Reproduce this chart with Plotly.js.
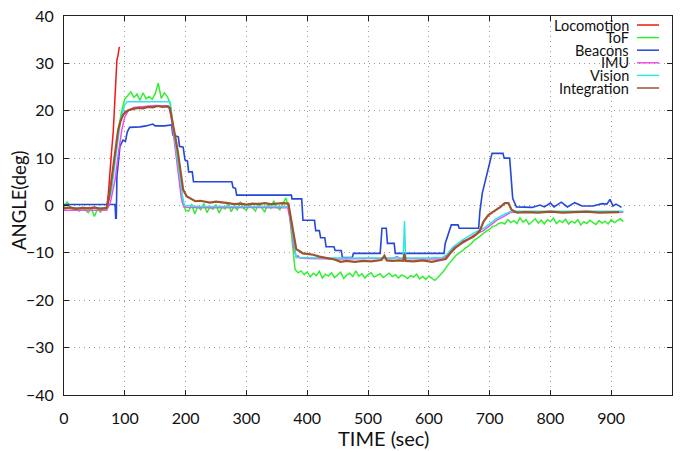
<!DOCTYPE html>
<html>
<head>
<meta charset="utf-8">
<script src="https://cdn.plot.ly/plotly-3.0.1.min.js"></script>
<style>html,body{margin:0;padding:0;background:#fff;}#chart{width:690px;height:451px;}</style>
</head>
<body>
<div id="chart"></div>
<script>
// ---------- DATA ----------
const seriesNames = ["Locomotion", "ToF", "Beacons", "IMU", "Vision", "Integration"];
const xTitle = "TIME (sec)";
const yTitle = "ANGLE(deg)";

const locoT = [0, 20, 40, 60, 70, 73, 76, 78, 81, 84, 85, 87, 89, 91];
const locoY = [-0.6, -0.6, -0.5, -0.6, -0.6, 2.6, 6.8, 11, 15.6, 22.3, 26.5, 30.7, 31.8, 33.5];

// ToF sampled every 5 s starting at t = 0
const tofStart = 0, tofStep = 5;
const tofY = [
  -0.5, 0.8, -0.3, -1.0, -0.6, -1.2, -0.4, -0.9, -1.5, -0.7,
  -2.3, -0.8, -1.4, -0.6, -1.0, 2.5, 6, 11.5, 16.5, 20,
  22.5, 23.2, 24.0, 22.8, 23.5, 22.2, 23.8, 22.5, 23.0, 22.4,
  23.6, 25.8, 22.6, 23.8, 23.0, 21.5, 16, 11, 5.5, 0.5,
  -1.0, -1.2, 0.3, -1.8, -0.2, -0.9, 0.4, -1.5, -0.4, -0.8,
  0.2, -1.6, -0.3, -0.7, 0.5, -1.3, -0.2, -0.9, 0.8, -0.6,
  -1.0, 0.3, -0.5, -1.2, 0.6, -0.4, -1.4, 0.2, -0.6, 1.0,
  -0.3, -0.9, 0.5, 1.6, -0.8, -7, -13.5, -14.2, -13.8, -14.6,
  -14.0, -15.1, -14.3, -14.8, -13.9, -15.3, -14.5, -14.9, -14.2, -15.2,
  -14.6, -14.1, -15.4, -14.7, -14.3, -15.0, -13.8, -14.9, -14.4, -15.3,
  -14.6, -14.2, -15.1, -14.7, -14.4, -15.2, -14.8, -14.3, -15.0, -14.6,
  -15.3, -14.7, -14.9, -15.4, -14.8, -15.1, -14.5, -15.5, -15.0, -15.6,
  -14.9, -15.4, -15.8, -15.2, -14.6, -13.8, -12.8, -12.0, -11.2, -10.5,
  -10.0, -9.6, -9.0, -8.6, -8.0, -7.3, -6.9, -6.3, -5.9, -5.4,
  -5.0, -4.4, -4.3, -3.8, -3.6, -3.9, -3.0, -3.6, -3.2, -3.8,
  -2.6, -3.5, -3.0, -4.0, -3.3, -2.8, -3.7, -3.1, -3.9, -3.0,
  -3.4, -2.7, -3.8, -3.2, -3.6, -2.9, -3.9, -3.3, -3.7, -3.0,
  -4.1, -3.4, -3.8, -3.1, -3.6, -4.0, -3.2, -3.7, -3.3, -3.9,
  -3.0, -3.6, -3.2, -2.8, -3.4
];

const beaconT = [0, 84, 85, 86, 87, 92, 97, 101, 104, 108, 125, 135, 146, 150, 165, 177, 179, 188, 190, 196,
  199, 203, 205, 211, 213, 276, 278, 282, 284, 374, 375, 391, 393, 412, 414, 420, 422, 429, 431, 444,
  446, 456, 458, 474, 476, 520, 523, 530, 532, 543, 545, 625, 627, 637, 648, 650, 682, 684, 688, 692,
  696, 699, 704, 722, 724, 733, 735, 738, 744, 760, 770, 783, 790, 800, 806, 818, 828, 840, 852, 870,
  885, 893, 898, 903, 908, 917];
const beaconY = [0.2, 0.2, -2.7, -2.7, 6.1, 12.5, 13.8, 13.5, 15.5, 16.5, 16.6, 16.8, 17.2, 16.8, 16.8, 17.0, 14.9, 14.5, 12.5, 12.3,
  9.6, 9.4, 7.1, 7.1, 5.0, 5.0, 3.8, 3.6, 2.2, 2.2, 1.4, 1.4, -3.1, -3.1, -5.3, -5.3, -6.8, -6.8, -8.7, -8.7,
  -9.5, -9.5, -11.0, -11.0, -10.1, -10.1, -4.8, -4.8, -8.0, -8.0, -10.1, -10.1, -8.0, -4.1, -4.1, -4.8, -4.8, -1.3, 2.6, 4.7,
  6.9, 8.9, 11.0, 11.0, 10.0, 10.0, 6.9, 1.5, -0.3, -0.3, -0.4, 0.1, -0.3, 0.5, -0.3, 0.7, -0.3, 0.6, -0.1, -0.1,
  0.4, 0.3, 1.3, -0.1, 0.3, -0.4];

const imuT = [0, 70, 76, 84, 90, 95, 100, 106, 115, 130, 150, 172, 176, 182, 188, 193, 197, 205, 240, 300,
  368, 372, 378, 382, 385, 388, 400, 450, 500, 540, 548, 552, 600, 622, 630, 640, 660, 673, 690, 712,
  725, 734, 742, 800, 860, 920];
const imuY = [-1.0, -1.0, 0.5, 5.4, 11.5, 15.9, 18.7, 20.1, 20.7, 20.9, 21.1, 21.0, 19.0, 13.0, 6.5, 1.5, -0.3, -0.4, -0.5, -0.4,
  -0.5, -3, -9, -10.9, -10.6, -11.1, -11.2, -11.3, -11.2, -11.2, -10.8, -11.2, -11.3, -11.3, -10.6, -9.0, -7.6, -6.3, -5.3, -3.1,
  -2.2, -1.5, -1.4, -1.4, -1.3, -1.4];

const visT = [0, 70, 78, 85, 93, 100, 104, 130, 160, 174, 180, 188, 195, 198, 220, 300, 370, 376, 382, 420,
  500, 558, 560, 562, 600, 622, 630, 640, 655, 673, 690, 712, 725, 734, 742, 850, 920];
const visY = [-0.5, -0.5, 3, 10, 18, 21.3, 21.9, 21.9, 22.0, 21.9, 15.9, 8.2, 1.9, 0.0, -0.2, -0.2, -0.2, -6, -11.0, -11.1,
  -11.1, -11.1, -3.3, -11.1, -11.1, -11.0, -10.3, -8.7, -7.3, -5.9, -4.8, -2.7, -1.8, -1.3, -1.2, -1.2, -1.2];

const intT = [0, 10, 20, 30, 40, 50, 60, 70,
  74, 78, 84, 89, 93, 97, 102, 106,
  114, 122, 130, 138, 146, 154, 162, 170,
  174, 178, 183, 187, 191, 196, 202, 208,
  216, 224, 232, 240, 250, 260, 270, 280,
  290, 300, 310, 320, 330, 340, 350, 360,
  369, 375, 380, 382, 387, 393, 400, 410,
  420, 432, 445, 455, 465, 478, 492, 505,
  515, 522, 527, 531, 540, 550, 558, 560,
  562, 575, 590, 605, 620, 628, 635, 643,
  650, 657, 665, 673, 679, 684, 690, 698,
  705, 712, 718, 725, 731, 736, 745, 760,
  780, 800, 820, 840, 860, 880, 900, 913];
const intY = [-0.6, -0.4, -0.7, -0.5, -0.6, -0.4, -0.7, -0.5,
  1.5, 5.4, 10.5, 15.9, 17.8, 19.1, 19.8, 20.1,
  20.4, 20.6, 20.5, 20.8, 20.7, 21.0, 20.8, 20.9,
  20.6, 17.5, 14.5, 11.5, 8.2, 3.3, 1.9, 1.5,
  0.9, 1.0, 0.8, 0.6, 0.8, 0.7, 0.5, 0.3,
  0.4, 0.2, 0.4, 0.3, 0.5, 0.3, 0.4, 0.5,
  0.4, -4.1, -8.3, -9.2, -9.6, -10.1, -10.2, -10.4,
  -10.8, -11.1, -11.4, -11.9, -11.7, -11.9, -11.7, -11.8,
  -11.6, -11.5, -10.6, -11.6, -11.7, -11.6, -11.7, -10.2,
  -11.7, -11.8, -11.6, -11.9, -11.5, -11.3, -10.1, -9.0,
  -8.3, -7.6, -7.1, -6.6, -6.0, -5.3, -3.4, -2.0,
  -1.4, -0.9, -0.3, 0.5, 0.5, -0.9, -1.5, -1.4,
  -1.5, -1.3, -1.5, -1.4, -1.3, -1.5, -1.4, -1.4];

const xTicks = [0, 100, 200, 300, 400, 500, 600, 700, 800, 900, 1000];
const yTicks = [-40, -30, -20, -10, 0, 10, 20, 30, 40];

// ---------- STYLE ----------
const colors = ["#f01818", "#33ee33", "#2448d8", "#f04ee6", "#2ee6e6", "#a0522d"];
const widths = [1.5, 1.5, 1.6, 1.5, 1.5, 2.2];
const FONT = "Lato, 'Open Sans', sans-serif";

const traces = [
  {x: locoT, y: locoY},
  {y: tofY, x0: tofStart, dx: tofStep},
  {x: beaconT, y: beaconY},
  {x: imuT, y: imuY},
  {x: visT, y: visY},
  {x: intT, y: intY}
].map((t, i) => Object.assign(t, {
  type: "scatter", mode: "lines", name: seriesNames[i],
  line: {color: colors[i], width: widths[i]}, hoverinfo: "skip"
}));

// pixel layout helpers
const W = 690, H = 451, mL = 64, mR = 18, mT = 16, mB = 56;
const pw = W - mL - mR, ph = H - mT - mB;
const px2x = p => (p - mL) / pw;
const py2y = p => (H - mB - p) / ph;

// custom legend: right-aligned text, sample line on the right
const legTop = 25, legStep = 12.6, legTextRight = 631, legLine0 = 637, legLine1 = 659;
const annotations = [], shapes = [];
seriesNames.forEach((n, i) => {
  const py = legTop + i * legStep;
  annotations.push({xref: "paper", yref: "paper", x: px2x(legTextRight), y: py2y(py),
    xanchor: "right", yanchor: "middle", showarrow: false, text: n,
    font: {family: FONT, size: 14.5, color: "#111"}});
  shapes.push({type: "line", xref: "paper", yref: "paper",
    x0: px2x(legLine0), x1: px2x(legLine1), y0: py2y(py), y1: py2y(py),
    line: {color: colors[i], width: 1.5}});
});

// axis titles placed as in the reference
annotations.push({xref: "paper", yref: "paper", x: px2x(383), y: py2y(438),
  xanchor: "center", yanchor: "middle", showarrow: false, text: xTitle,
  font: {family: FONT, size: 20, color: "#111"}});
annotations.push({xref: "paper", yref: "paper", x: px2x(19), y: py2y(200),
  xanchor: "center", yanchor: "middle", showarrow: false, text: yTitle, textangle: -90,
  font: {family: FONT, size: 18.5, color: "#111"}});

const axisCommon = {
  showline: true, linecolor: "#222", linewidth: 1, mirror: "ticks",
  ticks: "inside", ticklen: 5, tickcolor: "#222", tickwidth: 1,
  showgrid: true, gridcolor: "#9a9a9a", griddash: "1px,4px", gridwidth: 1,
  zeroline: false, tickfont: {family: FONT, size: 16, color: "#111"},
  fixedrange: true
};

const layout = {
  width: W, height: H,
  margin: {l: mL, r: mR, t: mT, b: mB},
  paper_bgcolor: "#fff", plot_bgcolor: "#fff",
  showlegend: false,
  xaxis: Object.assign({}, axisCommon, {range: [0, 1000], tickvals: xTicks, ticklabelstandoff: 9}),
  yaxis: Object.assign({}, axisCommon, {range: [-40, 40], tickvals: yTicks, ticklabelstandoff: 6}),
  annotations: annotations,
  shapes: shapes
};

Plotly.newPlot("chart", traces, layout, {displayModeBar: false, staticPlot: true});
</script>
</body>
</html>
